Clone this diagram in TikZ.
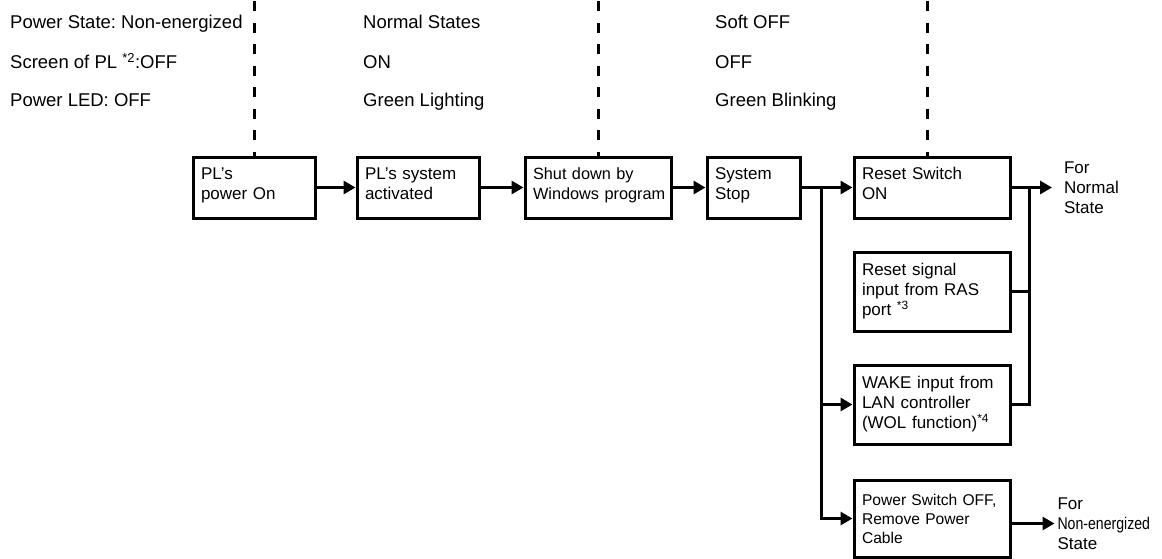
\documentclass[tikz,border=0pt]{standalone}
\usepackage{fontspec}
\setmainfont{Liberation Sans}
\usetikzlibrary{arrows.meta}
\usetikzlibrary{calc}
\frenchspacing

\begin{document}
\begin{tikzpicture}[x=1pt,y=-1pt,
    pbox/.style={draw,line width=3pt,align=left,inner xsep=8pt,
        minimum height=61pt,text width=#1,
        font=\fontsize{17pt}{20pt}\selectfont},
    upper/.style={text depth=28pt},
    toplbl/.style={anchor=west,inner sep=0pt,text height=13pt,text depth=4pt,
        font=\fontsize{18.5pt}{20pt}\selectfont},
    outlbl/.style={align=left,inner xsep=12pt,inner ysep=0pt,outer sep=0pt,
        anchor=west,font=\fontsize{17pt}{20pt}\selectfont},
    conn/.style={line width=3pt},
    arr/.style={conn,-{Triangle[length=12pt,width=13pt]}},
    sep/.style={line width=3pt,dash pattern=on 10pt off 11.5pt}]
\useasboundingbox (0,0) rectangle (1162,558);

% state rows of each phase
\foreach \x/\a/\b/\c [count=\i] in {
    10/{Power State: Non-energized}/{Screen of PL \textsuperscript{*2}:OFF}/{Power LED: OFF},
    363/{Normal States}/{ON}/{Green Lighting},
    715/{Soft OFF}/{OFF}/{Green Blinking}}{
    \node[toplbl] (st\i) at (\x,24) {\a};
    \node[toplbl] (scr\i) at (\x,64) {\b};
    \node[toplbl] (led\i) at (\x,102) {\c};
}

% main sequence
\node[pbox=106pt,upper] (pwr) at (254,187.5) {PL's\\power On};
\node[pbox=106pt,upper] (sys) at (418,187.5) {PL's system\\activated};
\node[pbox=130pt,upper,font=\fontsize{16.3pt}{20pt}\selectfont]
    (shut) at (598,187.5) {Shut down by\\\mbox{Windows program}};
\node[pbox=77pt,upper] (stop) at (753.5,187.5) {System\\Stop};

% restart / power off
\node[pbox=140pt,upper] (rsw) at (932,187.5) {Reset Switch\\ON};
\node[pbox=140pt,minimum height=79pt]
    (ras) at (932,291.5) {Reset signal\\input from RAS\\port \textsuperscript{*3}};
\node[pbox=140pt,minimum height=79pt]
    (wol) at (932,404.5) {WAKE input from\\LAN controller\\\mbox{(WOL function)\textsuperscript{*4}}};
\node[pbox=140pt,minimum height=77pt,font=\fontsize{15.6pt}{19pt}\selectfont]
    (cut) at (932,518.5) {\mbox{Power Switch OFF,}\\Remove Power\\Cable};

\node[outlbl] (nrm) at ([xshift=40.5pt]rsw.east) {For\\Normal\\State};
\node[outlbl,inner xsep=3pt] (off) at ([xshift=43pt,yshift=-5pt]cut.east)
    {For\\\scalebox{0.83}[1]{Non-energized}\\State};

% phase borders
\coordinate (top) at (0,1);
\draw[sep] (pwr.north |- top) -- (pwr.north);
\draw[sep] (shut.north |- top) -- (shut.north);
\draw[sep] ([xshift=-5pt]rsw.north |- top) -- ([xshift=-5pt]rsw.north);

\draw[arr] (pwr) -- (sys);
\draw[arr] (sys) -- (shut);
\draw[arr] (shut) -- (stop);

\coordinate (jl) at ([xshift=20pt]stop.east);
\coordinate (jr) at ([xshift=18pt]rsw.east);
\draw[arr] (stop.east) -- (jl) |- (cut.west);
\draw[arr] (jl) -- (rsw.west);
\draw[arr] (jl |- wol.west) -- (wol.west);
\draw[conn] (ras.east) -| (jr);
\draw[conn] (wol.east) -| (jr);
\draw[arr] (rsw.east) -- (nrm.west);
\draw[arr] (cut.east |- off.west) -- (off.west);
\end{tikzpicture}
\end{document}
